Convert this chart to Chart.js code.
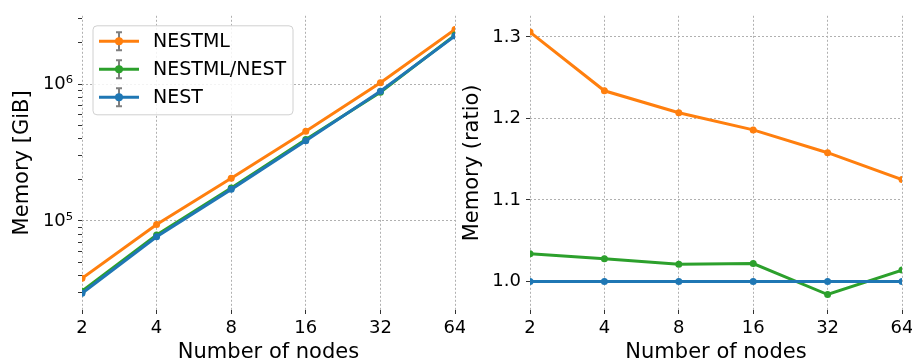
<!DOCTYPE html>
<html>
<head>
<meta charset="utf-8">
<script src="https://cdn.jsdelivr.net/npm/chart.js@4"></script>
<style>
  html, body { margin: 0; padding: 0; background: #fff; overflow: hidden; width: 912px; height: 358px; }
  canvas { position: absolute; top: 0; }
  #memChart { left: 0; }
  #ratioChart { left: 450px; }
</style>
</head>
<body>
<canvas id="memChart" width="465" height="370"></canvas>
<canvas id="ratioChart" width="462" height="370"></canvas>
<script>
const nodes = ["2", "4", "8", "16", "32", "64"];

// memory in GiB
const memNestml = [38000, 94000, 205000, 452000, 1025000, 2510000];
const memNestmlNest = [30600, 78700, 173600, 393000, 872000, 2284000];
const memNest = [29600, 76600, 170000, 385000, 886000, 2250000];

// memory relative to NEST
const ratioNestml = [1.306, 1.234, 1.207, 1.186, 1.158, 1.125];
const ratioNestmlNest = [1.034, 1.028, 1.021, 1.022, 0.984, 1.014];
const ratioNest = [1, 1, 1, 1, 1, 1];

const memMajor = [1e5, 1e6];
const memMinor = [3e4, 4e4, 5e4, 6e4, 7e4, 8e4, 9e4, 2e5, 3e5, 4e5, 5e5, 6e5, 7e5, 8e5, 9e5, 2e6, 3e6];
const ratioTicks = [1.0, 1.1, 1.2, 1.3];

const FONT = "DejaVu Sans";
const series = [
  { label: "NESTML", color: "#ff7f0e", order: 2 },
  { label: "NESTML/NEST", color: "#2ca02c", order: 1 },
  { label: "NEST", color: "#1f77b4", order: 0 },
];

function makeDatasets(values) {
  return series.map((s, i) => ({
    label: s.label,
    data: values[i],
    borderColor: s.color,
    backgroundColor: s.color,
    borderWidth: 3,
    pointRadius: 3.5,
    pointBorderWidth: 0,
    pointHoverRadius: 3.5,
    order: s.order,
    clip: 0,
    tension: 0,
  }));
}

function xScale() {
  return {
    type: "category",
    offset: false,
    grid: { color: "#b0b0b0", lineWidth: 1, offset: false, tickLength: 4, tickColor: "#333", tickBorderDash: [] },
    border: { display: false, dash: [2, 2] },
    ticks: { color: "#000", font: { family: FONT, size: 18 }, padding: 4, maxRotation: 0, autoSkip: false },
    title: {
      display: true,
      text: "Number of nodes",
      color: "#000",
      font: { family: FONT, size: 21 },
      padding: { top: 0, bottom: 5 },
    },
    afterFit: (scale) => {
      scale.height = 60;
      // let the edge labels hang out like matplotlib does
      scale.paddingLeft = 0;
      scale.paddingRight = 0;
    },
  };
}

function yTitle(text) {
  return { display: true, text: text, color: "#000", font: { family: FONT, size: 21 }, padding: { top: 10, bottom: 0 } };
}

// legend drawn like matplotlib (line + marker + gray errorbar)
const legendBox = {
  id: "legendBox",
  afterDraw(chart) {
    const ctx = chart.ctx;
    const a = chart.chartArea;
    const x0 = a.left + 11, y0 = a.top + 10, w = 200, h = 89;
    ctx.save();
    ctx.setLineDash([]);
    ctx.beginPath();
    ctx.roundRect(x0, y0, w, h, 4);
    ctx.fillStyle = "rgba(255,255,255,0.85)";
    ctx.fill();
    ctx.strokeStyle = "#d0d0d0";
    ctx.lineWidth = 1;
    ctx.stroke();
    chart.data.datasets.forEach((ds, i) => {
      const y = y0 + 15.5 + i * 28;
      const cx = x0 + 26;
      ctx.strokeStyle = "#7f7f7f";
      ctx.lineWidth = 2;
      ctx.beginPath();
      ctx.moveTo(cx, y - 9); ctx.lineTo(cx, y + 9);
      ctx.moveTo(cx - 3, y - 9); ctx.lineTo(cx + 3, y - 9);
      ctx.moveTo(cx - 3, y + 9); ctx.lineTo(cx + 3, y + 9);
      ctx.stroke();
      ctx.strokeStyle = ds.borderColor;
      ctx.lineWidth = 3;
      ctx.beginPath();
      ctx.moveTo(x0 + 6, y); ctx.lineTo(x0 + 46, y);
      ctx.stroke();
      ctx.fillStyle = ds.borderColor;
      ctx.beginPath();
      ctx.arc(cx, y, 4, 0, Math.PI * 2);
      ctx.fill();
      ctx.fillStyle = "#000";
      ctx.font = "19px '" + FONT + "'";
      ctx.textBaseline = "middle";
      ctx.fillText(ds.label, x0 + 60, y + 1);
    });
    ctx.restore();
  },
};

const common = {
  responsive: false,
  animation: false,
  events: [],
  plugins: { legend: { display: false }, tooltip: { enabled: false } },
  layout: { padding: { top: 13, right: 10, left: 0, bottom: 0 } },
};

new Chart(document.getElementById("memChart"), {
  type: "line",
  data: { labels: nodes, datasets: makeDatasets([memNestml, memNestmlNest, memNest]) },
  options: {
    ...common,
    scales: {
      x: xScale(),
      y: {
        type: "logarithmic",
        min: 22300,
        max: 3160000,
        afterBuildTicks: (scale) => {
          scale.ticks = memMajor.concat(memMinor).sort((a, b) => a - b).map((v) => ({ value: v, major: memMajor.includes(v) }));
        },
        grid: {
          color: (c) => (c.tick && memMajor.includes(c.tick.value) ? "#b0b0b0" : "rgba(0,0,0,0)"),
          tickColor: "#333",
          tickLength: 4,
          tickBorderDash: [],
        },
        border: { display: false, dash: [2, 2] },
        ticks: {
          color: "#000",
          font: { family: FONT, size: 18 },
          padding: 5,
          autoSkip: false,
          callback: (v) => (v === 1e5 ? "10⁵" : v === 1e6 ? "10⁶" : ""),
        },
        title: yTitle("Memory [GiB]"),
        afterFit: (scale) => { scale.width = 82; },
      },
    },
  },
  plugins: [legendBox],
});

new Chart(document.getElementById("ratioChart"), {
  type: "line",
  data: { labels: nodes, datasets: makeDatasets([ratioNestml, ratioNestmlNest, ratioNest]) },
  options: {
    ...common,
    scales: {
      x: xScale(),
      y: {
        type: "linear",
        min: 0.965,
        max: 1.326,
        afterBuildTicks: (scale) => {
          scale.ticks = ratioTicks.map((v) => ({ value: v }));
        },
        grid: { color: "#b0b0b0", tickColor: "#333", tickLength: 4, tickBorderDash: [] },
        border: { display: false, dash: [2, 2] },
        ticks: {
          color: "#000",
          font: { family: FONT, size: 18 },
          padding: 5,
          callback: (v) => Number(v).toFixed(1),
        },
        title: yTitle("Memory (ratio)"),
        afterFit: (scale) => { scale.width = 80; },
      },
    },
  },
});
</script>
</body>
</html>
